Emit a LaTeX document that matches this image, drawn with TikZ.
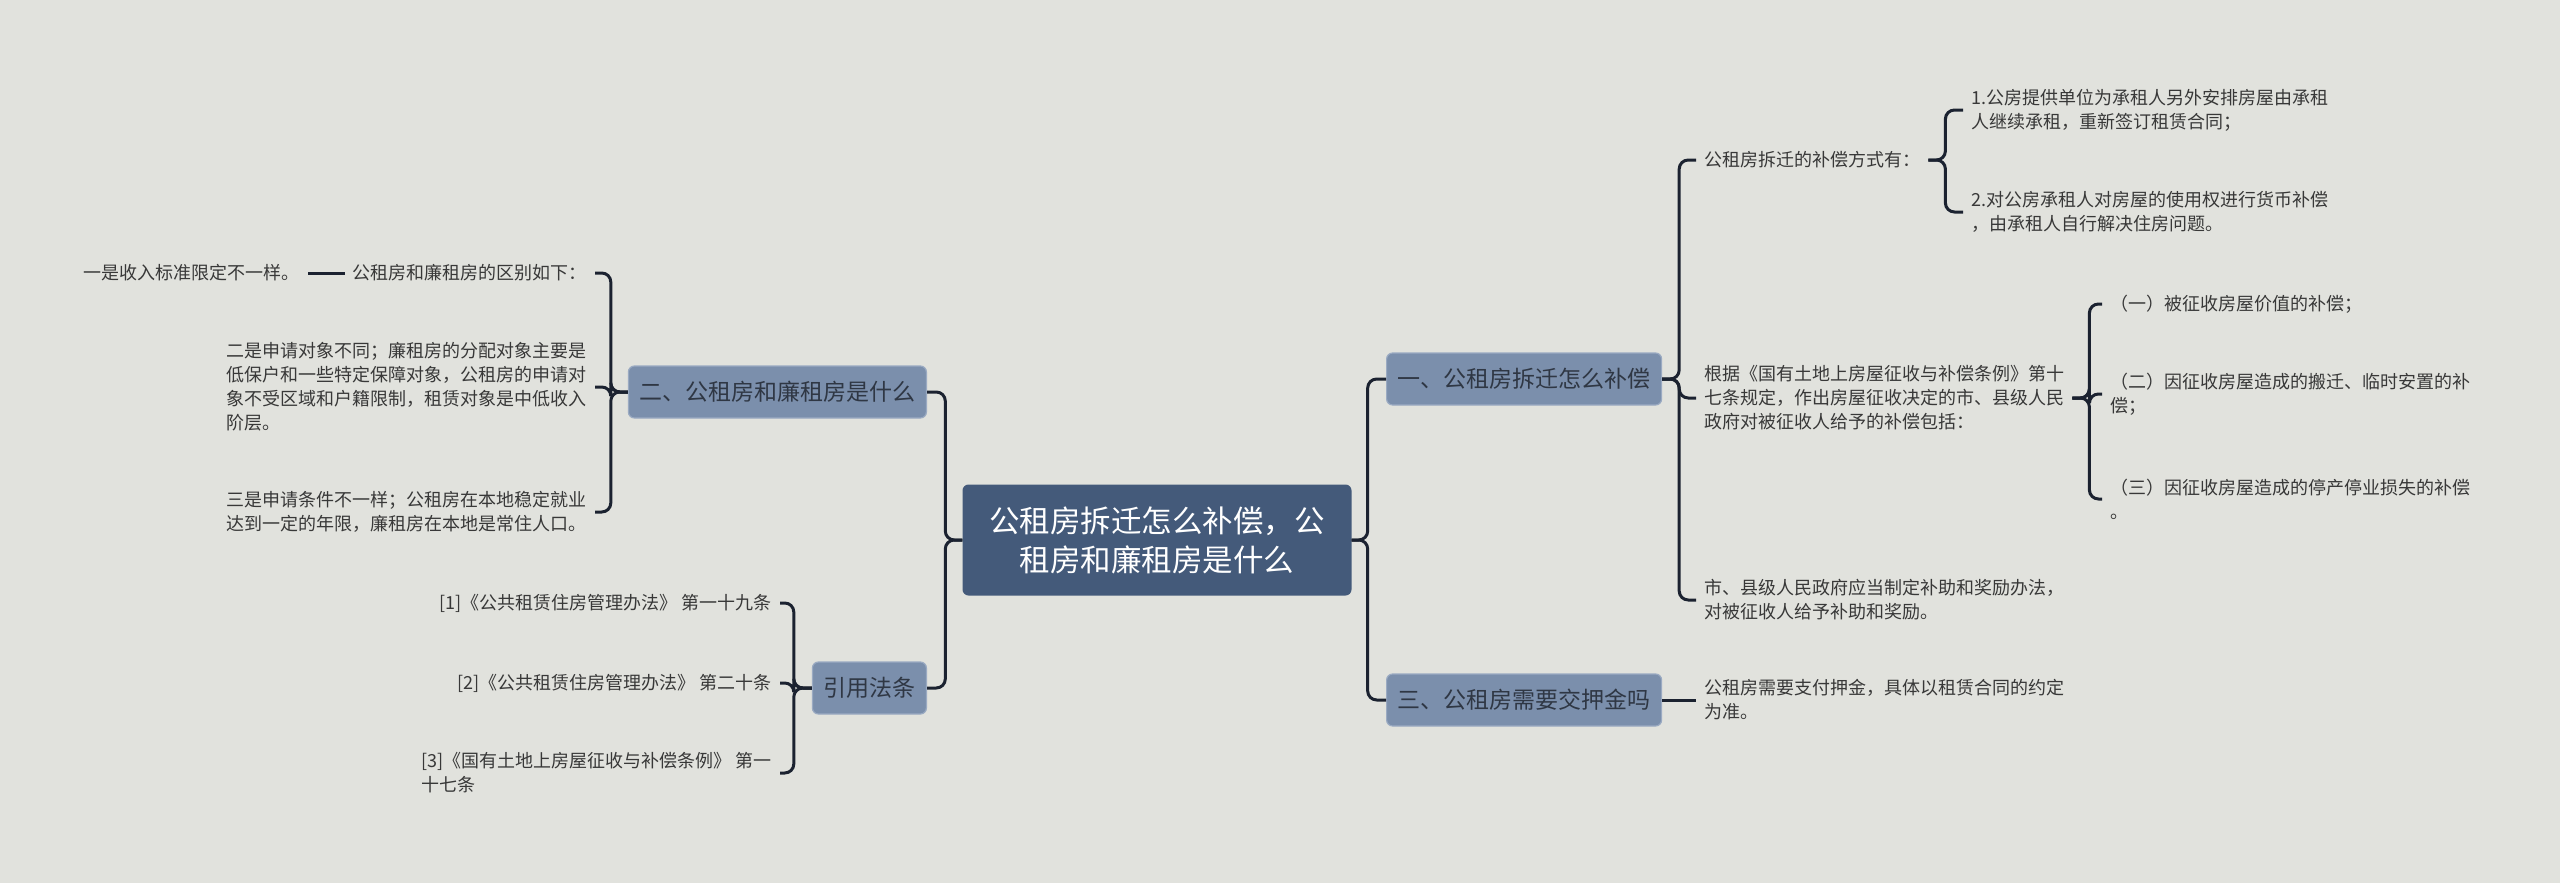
\documentclass[tikz,border=0pt]{standalone}
\usepackage{fontspec}
\setmainfont{Noto Sans CJK SC}
\usetikzlibrary{positioning}

\definecolor{bgcol}{HTML}{E1E2DD}
\definecolor{rootcol}{HTML}{445A7A}
\definecolor{branchcol}{HTML}{7B8FAC}
\definecolor{branchedge}{HTML}{9AAAC2}
\definecolor{branchtext}{HTML}{2F3744}
\definecolor{leaftext}{HTML}{383838}
\definecolor{linecol}{HTML}{1B2230}

\begin{document}
\begin{tikzpicture}[x=1pt, y=-1pt,
    link/.style={line width=3pt, draw=linecol, rounded corners=9pt},
    root/.style={rectangle, rounded corners=6pt, fill=rootcol, text=white,
        font=\fontsize{30.5}{39}\selectfont, align=center,
        minimum width=389pt, minimum height=111pt},
    branch/.style={rectangle, rounded corners=6pt, fill=branchcol, draw=branchedge,
        line width=1.2pt, text=branchtext, font=\fontsize{23}{28}\selectfont,
        minimum height=52pt, inner xsep=11pt},
    leaf/.style={inner xsep=8pt, inner ysep=0pt, text=leaftext,
        font=\fontsize{18}{24}\selectfont, align=left}]
    \fill[bgcol] (0,0) rectangle (2560,883);
    \useasboundingbox (0,0) rectangle (2560,883);

    % Define topics
    \node[root] (root) at (1157,540) {公租房拆迁怎么补偿，公\\租房和廉租房是什么};
    \node[branch, anchor=east] (b2) at (927,392) {二、公租房和廉租房是什么};
    \node[branch, anchor=east] (b4) at (927,688) {引用法条};
    \node[branch, anchor=west] (b1) at (1386,379) {一、公租房拆迁怎么补偿};
    \node[branch, anchor=west] (b3) at (1386,700) {三、公租房需要交押金吗};

    % Define leaves, right side
    \node[leaf, anchor=west] (l1) at (1696,160) {公租房拆迁的补偿方式有：};
    \node[leaf, anchor=west] (l11) at (1963,110) {1.公房提供单位为承租人另外安排房屋由承租\\人继续承租，重新签订租赁合同；};
    \node[leaf, anchor=west] (l12) at (1963,212) {2.对公房承租人对房屋的使用权进行货币补偿\\，由承租人自行解决住房问题。};
    \node[leaf, anchor=west] (l2) at (1696,398) {根据《国有土地上房屋征收与补偿条例》第十\\七条规定，作出房屋征收决定的市、县级人民\\政府对被征收人给予的补偿包括：};
    \node[leaf, anchor=west] (l21) at (2102,304) {（一）被征收房屋价值的补偿；};
    \node[leaf, anchor=west] (l22) at (2102,394) {（二）因征收房屋造成的搬迁、临时安置的补\\偿；};
    \node[leaf, anchor=west] (l23) at (2102,499) {（三）因征收房屋造成的停产停业损失的补偿\\。};
    \node[leaf, anchor=west] (l3) at (1696,600) {市、县级人民政府应当制定补助和奖励办法，\\对被征收人给予补助和奖励。};
    \node[leaf, anchor=west] (l31) at (1696,700) {公租房需要支付押金，具体以租赁合同的约定\\为准。};

    % Define leaves, left side
    \node[leaf, anchor=east] (m1) at (595,273) {公租房和廉租房的区别如下：};
    \node[leaf, anchor=east] (m11) at (308,273) {一是收入标准限定不一样。};
    \node[leaf, anchor=east] (m2) at (595,387) {二是申请对象不同；廉租房的分配对象主要是\\低保户和一些特定保障对象，公租房的申请对\\象不受区域和户籍限制，租赁对象是中低收入\\阶层。};
    \node[leaf, anchor=east] (m3) at (595,512) {三是申请条件不一样；公租房在本地稳定就业\\达到一定的年限，廉租房在本地是常住人口。};
    \node[leaf, anchor=east] (r1) at (780,603) {[1]《公共租赁住房管理办法》 第一十九条};
    \node[leaf, anchor=east] (r2) at (780,683) {[2]《公共租赁住房管理办法》 第二十条};
    \node[leaf, anchor=east] (r3) at (780,773) {[3]《国有土地上房屋征收与补偿条例》 第一\\十七条};

    % Define connectors
    \draw[link] (root.west) -- ++(-17,0) |- (b2.east);
    \draw[link] (root.west) -- ++(-17,0) |- (b4.east);
    \draw[link] (root.east) -- ++(16,0) |- (b1.west);
    \draw[link] (root.east) -- ++(16,0) |- (b3.west);
    \draw[link] (b1.east) -- ++(17,0) |- (l1.west);
    \draw[link] (b1.east) -- ++(17,0) |- (l2.west);
    \draw[link] (b1.east) -- ++(17,0) |- (l3.west);
    \draw[link] (l1.east) -- ++(17,0) |- (l11.west);
    \draw[link] (l1.east) -- ++(17,0) |- (l12.west);
    \draw[link] (l2.east) -- ++(17,0) |- (l21.west);
    \draw[link] (l2.east) -- ++(17,0) |- (l22.west);
    \draw[link] (l2.east) -- ++(17,0) |- (l23.west);
    \draw[link] (b3.east) -- (l31.west);
    \draw[link] (b2.west) -- ++(-17,0) |- (m1.east);
    \draw[link] (b2.west) -- ++(-17,0) |- (m2.east);
    \draw[link] (b2.west) -- ++(-17,0) |- (m3.east);
    \draw[link] (m1.west) -- (m11.east);
    \draw[link] (b4.west) -- ++(-18,0) |- (r1.east);
    \draw[link] (b4.west) -- ++(-18,0) |- (r2.east);
    \draw[link] (b4.west) -- ++(-18,0) |- (r3.east);
\end{tikzpicture}
\end{document}
